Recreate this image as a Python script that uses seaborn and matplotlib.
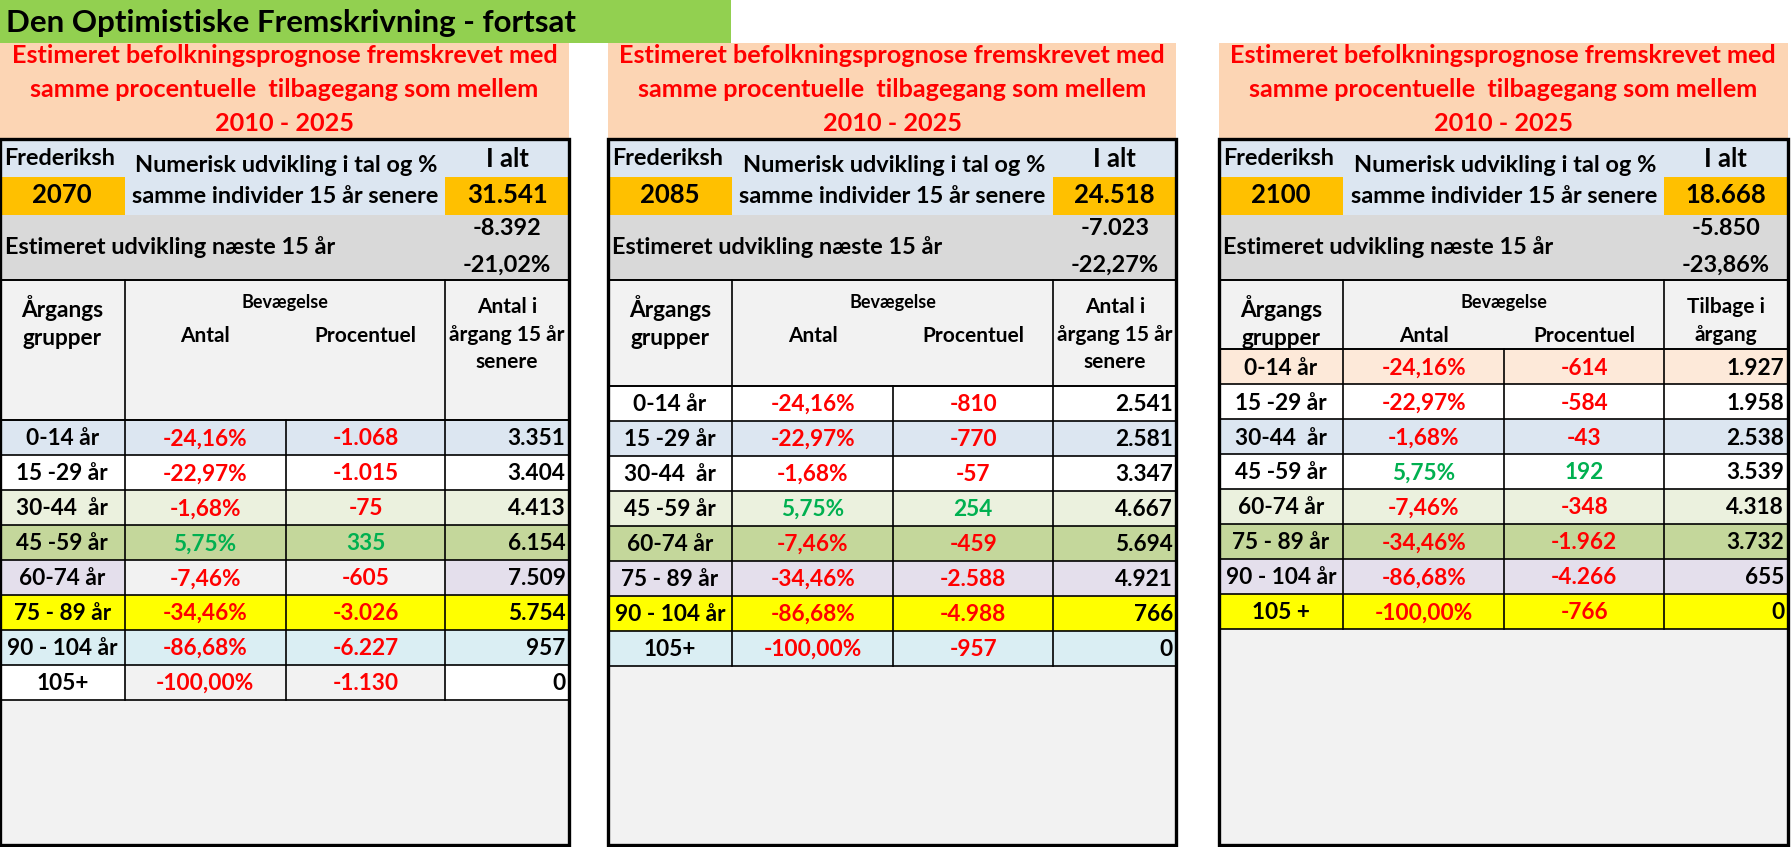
import matplotlib
matplotlib.use("Agg")
import matplotlib.pyplot as plt
from matplotlib.patches import Rectangle
from matplotlib.transforms import Bbox, TransformedBbox
import seaborn as sns

sns.set_theme(style="white")
plt.rcParams['font.family'] = ['Lato', 'DejaVu Sans']

# ---------------- data ----------------
main_title = "Den Optimistiske Fremskrivning - fortsat"
sub_title = ["Estimeret befolkningsprognose fremskrevet med",
             "samme procentuelle  tilbagegang som mellem",
             "2010 - 2025"]
municipality_shown = "Frederiksh"
years = ["2070", "2085", "2100"]
totals = [31541, 24518, 18668]
change_abs = [-8392, -7023, -5850]
change_pct = [-21.02, -22.27, -23.86]

age_groups_1 = ["0-14 år", "15 -29 år", "30-44  år", "45 -59 år", "60-74 år",
                "75 - 89 år", "90 - 104 år", "105+"]
age_groups_2 = ["0-14 år", "15 -29 år", "30-44  år", "45 -59 år", "60-74 år",
                "75 - 89 år", "90 - 104 år", "105+"]
age_groups_3 = ["0-14 år", "15 -29 år", "30-44  år", "45 -59 år", "60-74 år",
                "75 - 89 år", "90 - 104 år", "105 +"]

pct_change = [-24.16, -22.97, -1.68, 5.75, -7.46, -34.46, -86.68, -100.00]

count_change_1 = [-1068, -1015, -75, 335, -605, -3026, -6227, -1130]
later_count_1 = [3351, 3404, 4413, 6154, 7509, 5754, 957, 0]
count_change_2 = [-810, -770, -57, 254, -459, -2588, -4988, -957]
later_count_2 = [2541, 2581, 3347, 4667, 5694, 4921, 766, 0]
count_change_3 = [-614, -584, -43, 192, -348, -1962, -4266, -766]
later_count_3 = [1927, 1958, 2538, 3539, 4318, 3732, 655, 0]

last_col_header_1 = ["Antal i", "årgang 15 år", "senere"]
last_col_header_2 = ["Antal i", "årgang 15 år", "senere"]
last_col_header_3 = ["Tilbage i", "årgang"]

# ---------------- styles ----------------
C_GREEN_BAR = "#92d050"
C_PEACH = "#fcd5b4"
C_LBLUE = "#dce6f1"
C_ORANGE = "#ffc000"
C_GREY = "#f2f2f2"
C_DGREY = "#d9d9d9"
C_WHITE = "#ffffff"
C_LGREEN = "#ebf1de"
C_GREEN = "#c4d79b"
C_LAV = "#e4dfec"
C_YEL = "#ffff00"
C_CYAN = "#daeef3"
C_PINK = "#fde9d9"
RED = "#ff0000"
POS = "#00b050"

row_colors_1 = [[C_LBLUE] * 4, [C_WHITE] * 4, [C_LGREEN] * 4, [C_GREEN] * 4,
                [C_LAV, C_GREY, C_GREY, C_LAV], [C_YEL] * 4, [C_CYAN] * 4,
                [C_WHITE, C_GREY, C_GREY, C_WHITE]]
row_colors_2 = [[c] * 4 for c in [C_WHITE, C_LBLUE, C_WHITE, C_LGREEN, C_GREEN,
                                  C_LAV, C_YEL, C_CYAN]]
row_colors_3 = [[c] * 4 for c in [C_PINK, C_WHITE, C_LBLUE, C_WHITE, C_LGREEN,
                                  C_GREEN, C_LAV, C_YEL]]


def fmt_int(v):
    s = f"{abs(v):,}".replace(",", ".")
    return ("-" if v < 0 else "") + s


def fmt_pct(v):
    s = f"{abs(v):.2f}".replace(".", ",") + "%"
    return ("-" if v < 0 else "") + s


W, H = 1568.0, 741.6
fig = plt.figure(figsize=(17.91, 8.47), dpi=100)
ax = fig.add_axes([0, 0, 1, 1])
ax.set_xlim(0, W)
ax.set_ylim(H, 0)
ax.axis("off")

FS_TITLE = 22.5
FS_SUB = 18.2
FS = 16.3
FS_TOP = 16.9
FS_BIG = 18.5
FS_HDR = 15
FS_BEV = 13


def rect(x0, y0, x1, y1, color, z=1):
    ax.add_patch(Rectangle((x0, y0), x1 - x0, y1 - y0, facecolor=color,
                           edgecolor="none", zorder=z))


def hline(x0, x1, y, lw=1.2):
    ax.plot([x0, x1], [y, y], color="black", lw=lw, zorder=5,
            solid_capstyle="projecting")


def vline(x, y0, y1, lw=1.2):
    ax.plot([x, x], [y0, y1], color="black", lw=lw, zorder=5,
            solid_capstyle="projecting")


def txt(x, y, s, ha="center", color="black", fs=FS, **kw):
    return ax.text(x, y, s, ha=ha, va="center", color=color, fontsize=fs,
                   fontweight="bold", zorder=6, **kw)


# title bar
rect(0, 0, 640, 38, C_GREEN_BAR)
txt(5, 20, main_title, ha="left", fs=FS_TITLE)

panels = [
    dict(x=0, year=years[0], total=totals[0], dabs=change_abs[0], dpct=change_pct[0],
         ages=age_groups_1, counts=count_change_1, later=later_count_1,
         colors=row_colors_1, hdr_h=123, last_hdr=last_col_header_1),
    dict(x=532, year=years[1], total=totals[1], dabs=change_abs[1], dpct=change_pct[1],
         ages=age_groups_2, counts=count_change_2, later=later_count_2,
         colors=row_colors_2, hdr_h=93, last_hdr=last_col_header_2),
    dict(x=1067, year=years[2], total=totals[2], dabs=change_abs[2], dpct=change_pct[2],
         ages=age_groups_3, counts=count_change_3, later=later_count_3,
         colors=row_colors_3, hdr_h=61, last_hdr=last_col_header_3),
]

PW = 498
COLS = [0, 109, 250, 390, 498]
ROW_H = 30.6
T_TOP, T_BOT = 122, 740
Y_R1, Y_R2, Y_EST, Y_HDR = 155, 188, 245, 245

for p in panels:
    x0 = p["x"]
    cx = [x0 + c for c in COLS]
    # peach header
    rect(x0, 38, x0 + PW, T_TOP, C_PEACH)
    for i, line in enumerate(sub_title):
        txt(x0 + PW / 2, 49 + i * 29.5, line, color=RED, fs=FS_SUB)
    # table background
    rect(x0, T_TOP, x0 + PW, T_BOT, C_GREY)
    rect(x0, T_TOP, x0 + PW, Y_R2, C_LBLUE, z=2)
    rect(cx[0], Y_R1, cx[1], Y_R2, C_ORANGE, z=3)
    rect(cx[3], Y_R1, cx[4], Y_R2, C_ORANGE, z=3)
    rect(x0, Y_R2, x0 + PW, Y_EST, C_DGREY, z=2)

    t = txt(cx[0] + 4, 139, municipality_shown, ha="left", fs=FS_TOP)
    t.set_clip_box(TransformedBbox(Bbox([[cx[0], T_TOP], [cx[1] - 1, Y_R1]]), ax.transData))
    t.set_clip_on(True)
    txt((cx[1] + cx[3]) / 2 + 1, 145, "Numerisk udvikling i tal og %", fs=FS_TOP)
    txt((cx[1] + cx[3]) / 2, 172, "samme individer 15 år senere", fs=FS_TOP)
    txt((cx[3] + cx[4]) / 2, 139, "I alt", fs=FS_BIG)
    txt((cx[0] + cx[1]) / 2, 171, p["year"], fs=FS_BIG)
    txt((cx[3] + cx[4]) / 2, 171, fmt_int(p["total"]), fs=FS_BIG)
    txt(cx[0] + 4, 216, "Estimeret udvikling næste 15 år", ha="left", fs=FS_TOP)
    txt((cx[3] + cx[4]) / 2, 200, fmt_int(p["dabs"]), fs=FS_TOP)
    txt((cx[3] + cx[4]) / 2, 232, fmt_pct(p["dpct"]), fs=FS_TOP)

    # column header
    y_data = Y_HDR + p["hdr_h"]
    txt((cx[0] + cx[1]) / 2, Y_HDR + 25, "Årgangs")
    txt((cx[0] + cx[1]) / 2, Y_HDR + 51, "grupper")
    txt((cx[1] + cx[3]) / 2, Y_HDR + 20, "Bevægelse", fs=FS_BEV)
    txt((cx[1] + cx[2]) / 2, Y_HDR + 49, "Antal", fs=FS_HDR)
    txt((cx[2] + cx[3]) / 2, Y_HDR + 49, "Procentuel", fs=FS_HDR)
    step = 24.5 if len(p["last_hdr"]) == 2 else 24
    for i, s in enumerate(p["last_hdr"]):
        txt((cx[3] + cx[4]) / 2, Y_HDR + 24 + i * step, s, fs=FS_HDR)

    # data rows
    n = len(p["ages"])
    for r in range(n):
        ya = y_data + r * ROW_H
        yb = ya + ROW_H
        ym = (ya + yb) / 2 + 1
        for c in range(4):
            rect(cx[c], ya, cx[c + 1], yb, p["colors"][r][c], z=2)
        txt((cx[0] + cx[1]) / 2, ym, p["ages"][r])
        col = POS if pct_change[r] > 0 else RED
        txt((cx[1] + cx[2]) / 2, ym, fmt_pct(pct_change[r]), color=col)
        col = POS if p["counts"][r] > 0 else RED
        txt((cx[2] + cx[3]) / 2, ym, fmt_int(p["counts"][r]), color=col)
        txt(cx[4] - 3, ym, fmt_int(p["later"][r]), ha="right")
        hline(x0, x0 + PW, yb)
    y_end = y_data + n * ROW_H

    # grid lines
    hline(x0, x0 + PW, Y_HDR, lw=1.4)
    hline(x0, x0 + PW, y_data, lw=1.4)
    vline(cx[1], Y_HDR, y_end)
    vline(cx[3], Y_HDR, y_end)
    vline(cx[2], y_data, y_end)
    # outer border
    ax.add_patch(Rectangle((x0, T_TOP), PW, T_BOT - T_TOP, facecolor="none",
                           edgecolor="black", lw=2.4, zorder=7))

fig.savefig("out.png", dpi=100)
